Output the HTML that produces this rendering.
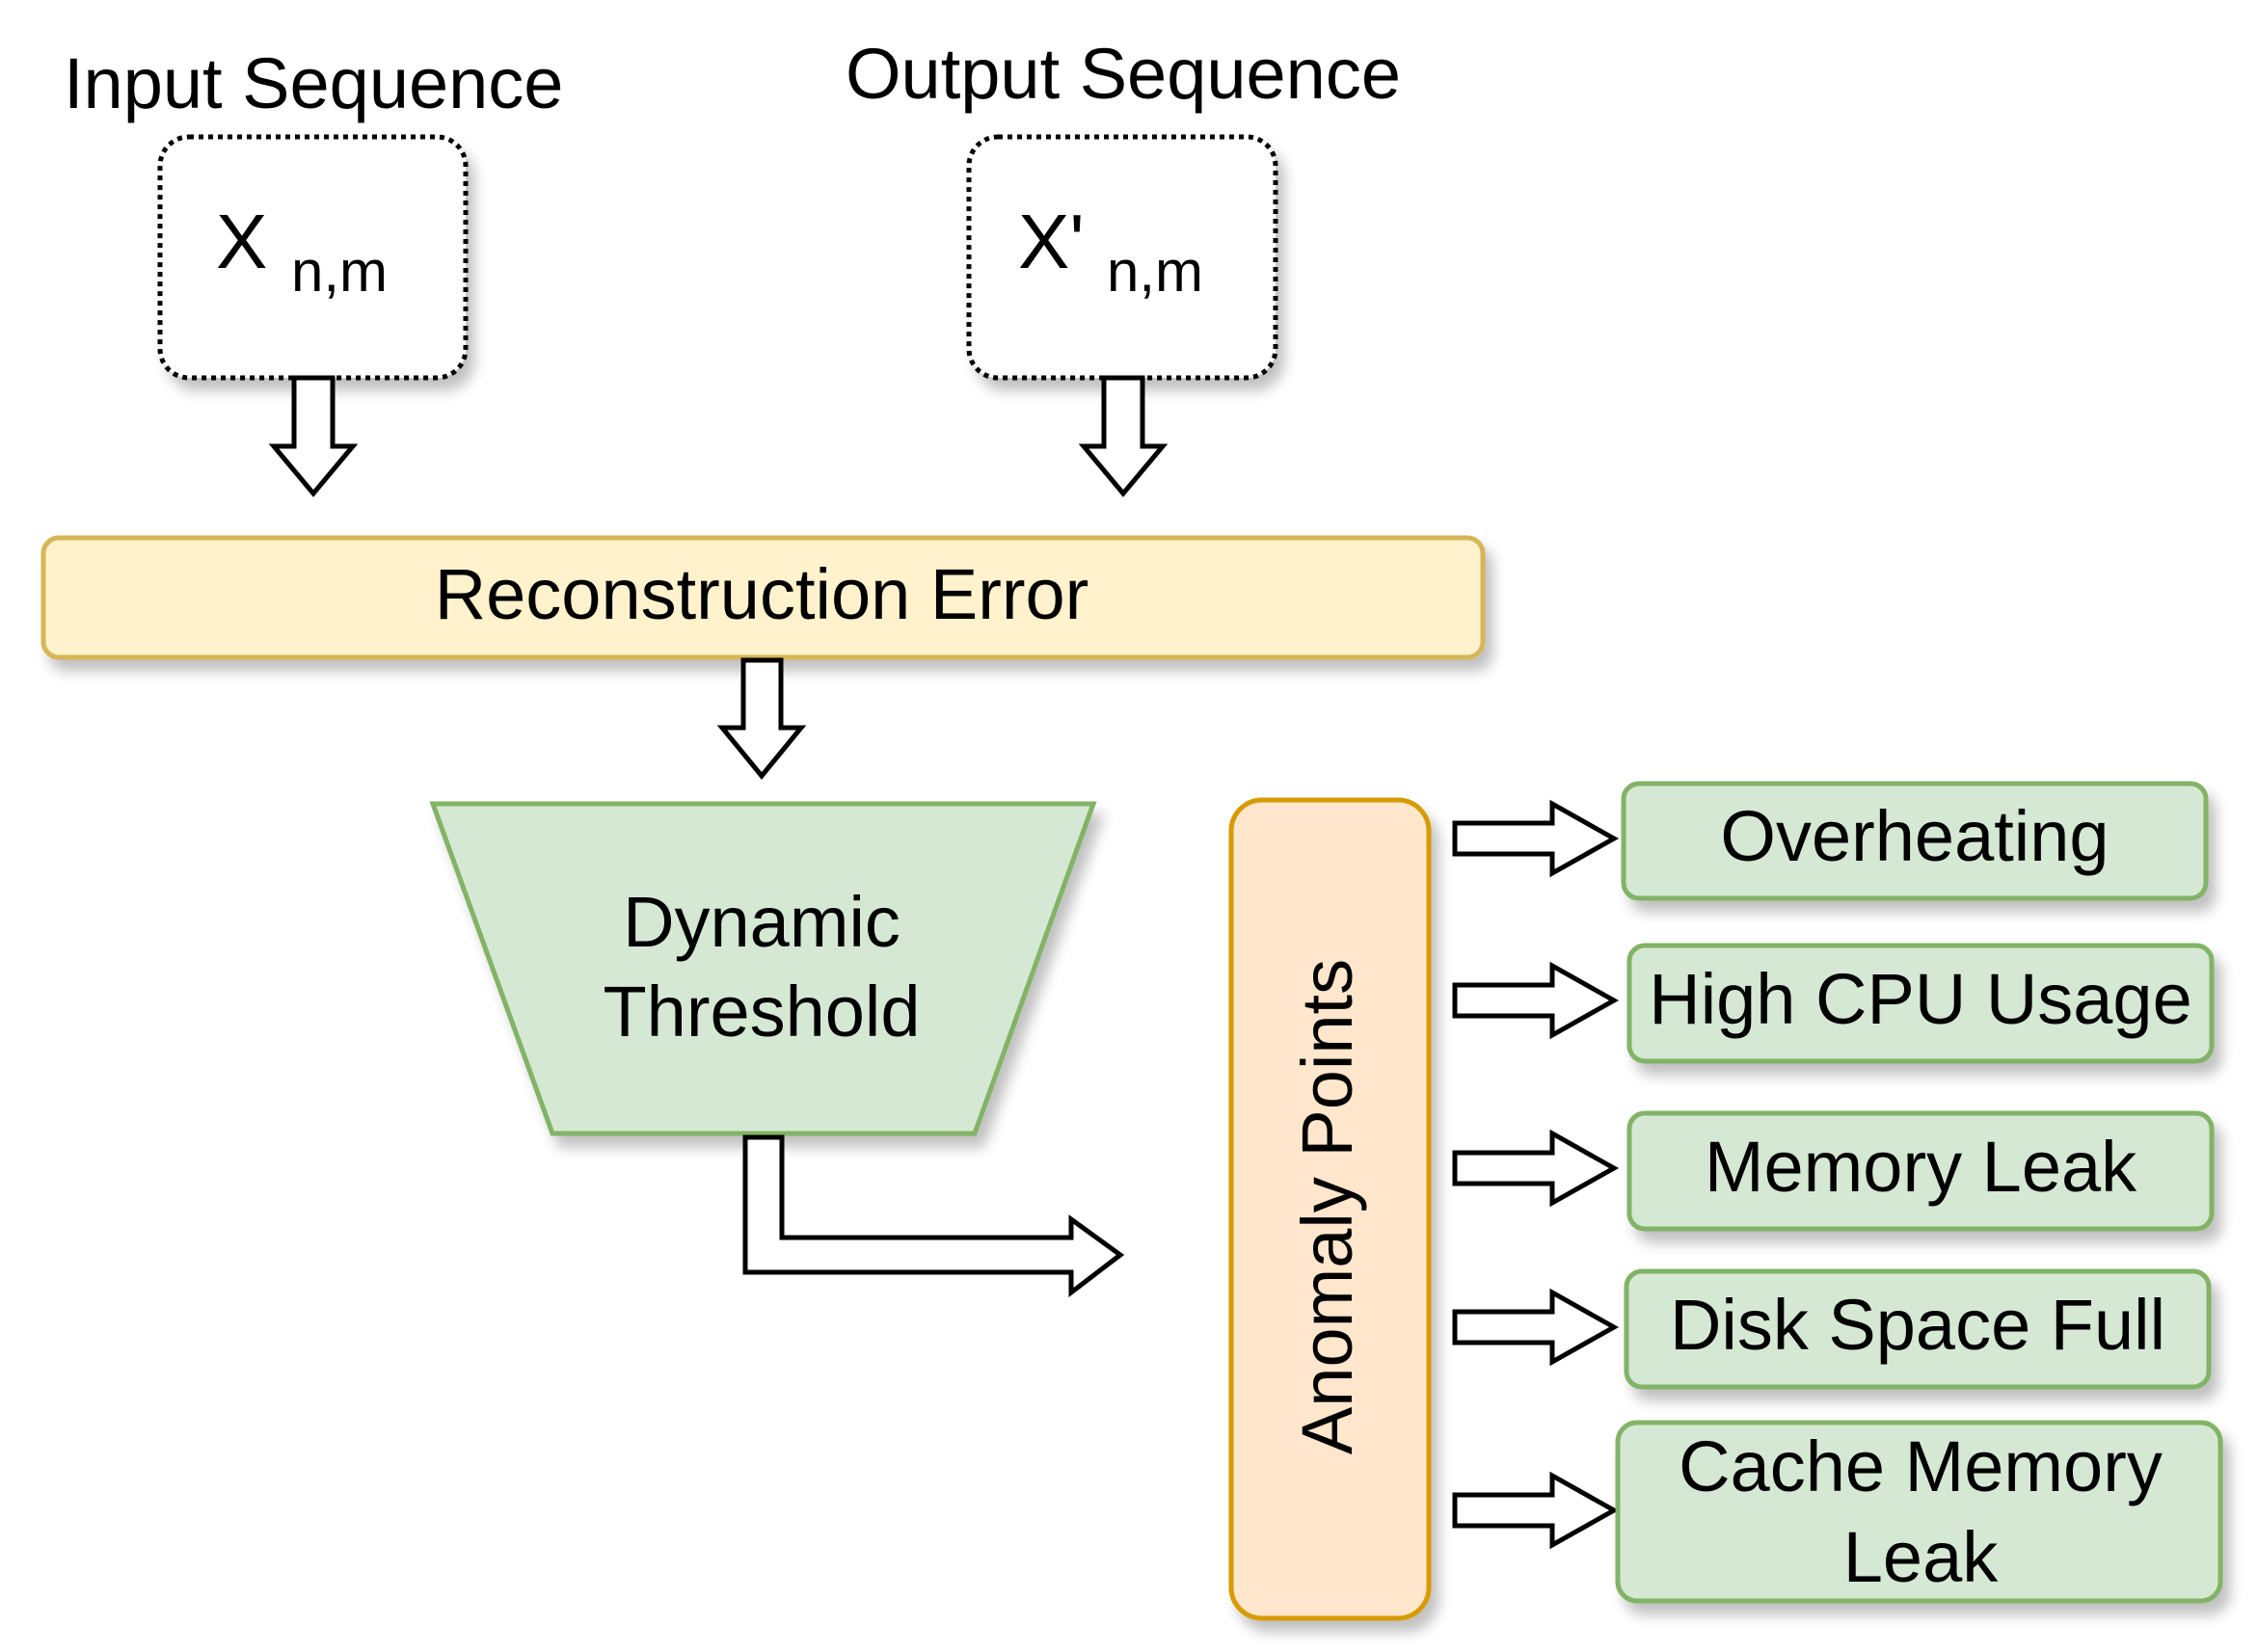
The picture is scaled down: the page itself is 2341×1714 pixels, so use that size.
<!DOCTYPE html>
<html><head><meta charset="utf-8"><style>html,body{margin:0;padding:0;background:#fff}svg{display:block}</style></head><body>
<svg width="2341" height="1714" viewBox="0 0 2341 1714" xmlns="http://www.w3.org/2000/svg" font-family="Liberation Sans, Arial, sans-serif">
<defs>
<filter id="sh" x="-10%" y="-10%" width="130%" height="140%">
<feGaussianBlur in="SourceAlpha" stdDeviation="7"/><feOffset dx="8" dy="12"/>
<feComponentTransfer><feFuncA type="linear" slope="0.25"/></feComponentTransfer>
<feMerge><feMergeNode/><feMergeNode in="SourceGraphic"/></feMerge></filter>
</defs>
<g font-size="74" fill="#000">
<text x="66" y="112">Input Sequence</text>
<text x="877" y="102">Output Sequence</text>
</g>
<g filter="url(#sh)" fill="#fff" stroke="#000" stroke-width="5" stroke-dasharray="5,5">
<rect x="166" y="142" width="317" height="250" rx="30"/>
<rect x="1005" y="142" width="318" height="250" rx="30"/>
</g>
<text x="224" y="278" font-size="80">X</text><text x="302" y="302" font-size="60">n,m</text>
<text x="1056" y="278" font-size="80">X'</text><text x="1148" y="302" font-size="60">n,m</text>
<g fill="#fff" stroke="#000" stroke-width="5" stroke-linejoin="miter">
<path d="M305 392 H345 V463 H366 L325 512 L284 463 H305 Z"/>
<path d="M1145 392 H1185 V463 H1206 L1165 512 L1124 463 H1145 Z"/>
</g>
<rect filter="url(#sh)" x="45" y="558" width="1493" height="124" rx="16" fill="#fff2cc" stroke="#d6b656" stroke-width="5"/>
<text x="790" y="642" font-size="74" text-anchor="middle">Reconstruction Error</text>
<path d="M771 685 H810 V755 H831 L790 805 L749 755 H771 Z" fill="#fff" stroke="#000" stroke-width="5"/>
<polygon filter="url(#sh)" points="449,834 1134,834 1011,1176 573,1176" fill="#d5e8d4" stroke="#82b366" stroke-width="5"/>
<text x="790" y="982" font-size="74" text-anchor="middle">Dynamic</text>
<text x="790" y="1075" font-size="74" text-anchor="middle">Threshold</text>
<path d="M773 1180 H811 V1284 H1111 V1265 L1162 1302 L1111 1341 V1320 H773 Z" fill="#fff" stroke="#000" stroke-width="5"/>
<rect filter="url(#sh)" x="1277" y="830" width="205" height="849" rx="32" fill="#ffe6cc" stroke="#d79b00" stroke-width="5"/>
<text transform="translate(1402 1252) rotate(-90)" font-size="74" text-anchor="middle">Anomaly Points</text>
<g fill="#fff" stroke="#000" stroke-width="5">
<path d="M1509 854 H1610 V834 L1674 870 L1610 906 V886 H1509 Z"/>
<path d="M1509 1022 H1610 V1002 L1674 1038 L1610 1074 V1054 H1509 Z"/>
<path d="M1509 1196 H1610 V1176 L1674 1212 L1610 1248 V1228 H1509 Z"/>
<path d="M1509 1361 H1610 V1341 L1674 1377 L1610 1413 V1393 H1509 Z"/>
<path d="M1509 1551 H1610 V1531 L1674 1567 L1610 1603 V1583 H1509 Z"/>
</g>
<g filter="url(#sh)" fill="#d5e8d4" stroke="#82b366" stroke-width="5">
<rect x="1684" y="813" width="604" height="119" rx="16"/>
<rect x="1690" y="981" width="604" height="120" rx="16"/>
<rect x="1690" y="1155" width="604" height="120" rx="16"/>
<rect x="1687" y="1319" width="604" height="120" rx="16"/>
<rect x="1678" y="1476" width="625" height="185" rx="20"/>
</g>
<g font-size="74" text-anchor="middle">
<text x="1986" y="893">Overheating</text>
<text x="1992" y="1062">High CPU Usage</text>
<text x="1992" y="1236">Memory Leak</text>
<text x="1989" y="1400">Disk Space Full</text>
<text x="1992" y="1547">Cache Memory</text>
<text x="1992" y="1641">Leak</text>
</g>
</svg>
</body></html>
